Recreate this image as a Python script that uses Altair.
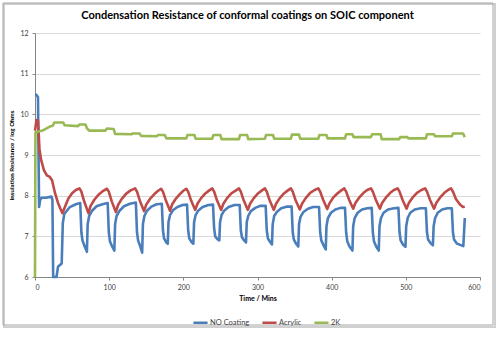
import altair as alt
import pandas as pd

# ---- data (time in minutes, value in log Ohms) ----
no_coating = [
    (0, 10.48), (2, 10.48), (4, 10.42), (5.5, 7.72), (7, 7.9), (9, 7.95), (15, 7.95), (22, 7.98),
    (23.5, 7.9), (24.5, 6.0), (29, 6.0), (31, 6.25), (36, 6.33), (37.5, 7.33), (39.5, 7.55),
    (47, 7.72), (55, 7.79),
    (61, 7.82), (62.5, 7.1), (64, 6.9), (67, 6.75), (70, 6.62), (71, 7.3), (73, 7.5), (77, 7.63), (83, 7.74), (91, 7.79),
    (98, 7.82), (99.5, 7.1), (101, 6.88), (104, 6.75), (107, 6.65), (108, 7.3), (110, 7.5), (114, 7.63), (120, 7.74), (128, 7.8),
    (136, 7.83), (137.5, 7.1), (139, 6.9), (142, 6.75), (144.5, 6.6), (145.5, 7.3), (147.5, 7.5), (151, 7.63), (157, 7.73), (164, 7.79),
    (171, 7.8), (172.5, 7.15), (174, 6.95), (177, 6.85), (179, 6.82), (180, 7.35), (182, 7.52), (186, 7.64), (192, 7.72), (199, 7.77),
    (205, 7.78), (206.5, 7.15), (208, 6.95), (211, 6.86), (213.5, 6.82), (214.5, 7.35), (216.5, 7.52), (220, 7.63), (226, 7.72), (234, 7.77),
    (240, 7.78), (241.5, 7.2), (243, 7.0), (246, 6.93), (248.5, 6.9), (249.5, 7.35), (251.5, 7.52), (255, 7.63), (261, 7.72), (269, 7.77),
    (276, 7.77), (277.5, 7.15), (279, 6.98), (282, 6.9), (284.5, 6.85), (285.5, 7.35), (287.5, 7.5), (291, 7.62), (297, 7.7), (304, 7.75),
    (311, 7.75), (312.5, 7.15), (314, 6.95), (317, 6.86), (319.5, 6.8), (320.5, 7.3), (322.5, 7.5), (326, 7.6), (332, 7.69), (339, 7.73),
    (346, 7.73), (347.5, 7.1), (349, 6.92), (352, 6.82), (355, 6.75), (356, 7.3), (358, 7.48), (362, 7.6), (368, 7.68), (375, 7.72),
    (383, 7.72), (384.5, 7.1), (386, 6.9), (389, 6.78), (392, 6.68), (393, 7.25), (395, 7.45), (399, 7.58), (405, 7.66), (412, 7.7),
    (418, 7.7), (419.5, 7.1), (421, 6.88), (424, 6.75), (428, 6.65), (429, 7.25), (431, 7.45), (435, 7.58), (441, 7.66), (448, 7.69),
    (454, 7.7), (455.5, 7.1), (457, 6.88), (460, 6.75), (463.5, 6.65), (464.5, 7.25), (466.5, 7.45), (470, 7.58), (476, 7.66), (484, 7.69),
    (490, 7.7), (491.5, 7.1), (493, 6.9), (496, 6.8), (499.5, 6.74), (500.5, 7.25), (502.5, 7.45), (506, 7.58), (512, 7.66), (520, 7.69),
    (527, 7.69), (528.5, 7.1), (530, 6.92), (533, 6.84), (536.5, 6.78), (537.5, 7.25), (539.5, 7.45), (543, 7.58), (549, 7.66), (556, 7.69),
    (562, 7.69), (563.5, 7.1), (565, 6.92), (569, 6.82), (577.5, 6.76), (579.5, 7.45),
]

acrylic = [
    (0, 9.6), (2, 9.86), (4, 9.85), (6, 9.15), (8, 8.9), (12, 8.63), (16, 8.5), (20, 8.46), (23, 8.38),
    (27, 8.06), (31, 7.82), (35, 7.65), (37, 7.57), (41, 7.75), (45, 7.93), (50, 8.06), (55, 8.14), (60, 8.18),
    (62.5, 8.1), (66.5, 7.85), (72, 7.57), (75, 7.75), (80, 7.9), (86, 8.03), (92, 8.12), (97, 8.17),
    (99.5, 8.1), (103.5, 7.86), (109, 7.6), (112, 7.77), (117, 7.92), (123, 8.05), (129, 8.13), (135, 8.18),
    (137.5, 8.1), (141.5, 7.87), (147, 7.62), (150, 7.78), (155, 7.92), (161, 8.04), (166, 8.12), (170, 8.17),
    (172.5, 8.1), (176.5, 7.88), (182, 7.63), (185, 7.79), (190, 7.93), (196, 8.05), (200, 8.12), (204, 8.17),
    (206.5, 8.1), (210.5, 7.88), (216, 7.65), (219, 7.8), (224, 7.94), (230, 8.06), (235, 8.13), (239, 8.18),
    (241.5, 8.1), (245.5, 7.88), (251, 7.65), (254, 7.8), (259, 7.94), (265, 8.06), (271, 8.13), (275, 8.18),
    (277.5, 8.1), (281.5, 7.88), (287, 7.65), (290, 7.8), (295, 7.94), (301, 8.06), (306, 8.13), (310, 8.18),
    (312.5, 8.1), (316.5, 7.88), (322, 7.65), (325, 7.8), (330, 7.94), (336, 8.06), (341, 8.13), (345, 8.18),
    (347.5, 8.1), (351.5, 7.88), (357, 7.66), (360, 7.8), (365, 7.94), (371, 8.07), (377, 8.14), (382, 8.18),
    (384.5, 8.1), (388.5, 7.9), (394, 7.67), (397, 7.81), (402, 7.95), (408, 8.06), (413, 8.13), (417, 8.18),
    (419.5, 8.1), (423.5, 7.9), (429, 7.68), (432, 7.82), (437, 7.95), (443, 8.07), (448, 8.14), (453, 8.18),
    (455.5, 8.1), (459.5, 7.9), (465, 7.68), (468, 7.82), (473, 7.95), (479, 8.07), (484, 8.14), (489, 8.18),
    (491.5, 8.1), (495.5, 7.9), (501, 7.68), (504, 7.82), (509, 7.95), (515, 8.07), (521, 8.14), (526, 8.18),
    (528.5, 8.1), (532.5, 7.9), (538, 7.68), (541, 7.82), (546, 7.95), (552, 8.07), (557, 8.14), (561, 8.18),
    (563.5, 8.1), (567.5, 7.92), (573, 7.78), (577, 7.72), (579.5, 7.73),
]

two_k = [
    (0, 6.0), (0.6, 9.55), (5, 9.58), (10, 9.6), (15, 9.65), (20, 9.7), (24, 9.72), (26, 9.8), (38, 9.8),
    (40, 9.73), (58, 9.71), (60, 9.75), (68, 9.75), (70, 9.66), (73, 9.6), (95, 9.6), (97, 9.65), (106, 9.64),
    (108, 9.52), (130, 9.51), (132, 9.53), (141, 9.53), (143, 9.47), (164, 9.46), (166, 9.49), (175, 9.49),
    (177, 9.41), (204, 9.41), (205.5, 9.49), (215, 9.49), (216.5, 9.4), (239, 9.4), (240.5, 9.49), (250, 9.49),
    (251.5, 9.39), (275, 9.39), (276.5, 9.49), (286, 9.49), (287.5, 9.39), (310, 9.4), (311.5, 9.49), (321, 9.49),
    (322.5, 9.4), (345, 9.4), (346.5, 9.5), (356, 9.5), (357.5, 9.4), (382, 9.4), (383.5, 9.49), (393, 9.49),
    (394.5, 9.41), (418, 9.41), (419.5, 9.51), (428, 9.51), (429.5, 9.44), (453, 9.44), (454.5, 9.51), (466, 9.51),
    (467.5, 9.39), (491, 9.39), (492.5, 9.44), (502, 9.44), (503.5, 9.41), (527, 9.41), (528.5, 9.51), (538, 9.51),
    (539.5, 9.46), (562, 9.46), (563.5, 9.53), (577, 9.53), (579.5, 9.44),
]

chart_title = "Condensation Resistance of conformal coatings on SOIC component"
series_names = ["NO Coating", "Acrylic", "2K"]
series_colors = ["#4A7EBB", "#BE4B48", "#98B954"]
x_ticks = [0, 100, 200, 300, 400, 500, 600]
y_ticks = [6, 7, 8, 9, 10, 11, 12]

rows = []
for name, pts in zip(series_names, [no_coating, acrylic, two_k]):
    for i, (t, v) in enumerate(pts):
        rows.append({"series": name, "time": t, "value": v, "idx": i})
df = pd.DataFrame(rows)

FONT = "Lato"
AXIS_GREY = "#868686"
LABEL_GREY = "#404040"

x_enc = alt.X(
    "time:Q",
    scale=alt.Scale(domain=[0, 600], nice=False),
    axis=alt.Axis(values=x_ticks, grid=False, title="Time / Mins", format="d",
                  tickSize=3, labelPadding=3, titlePadding=4),
)
y_enc = alt.Y(
    "value:Q",
    scale=alt.Scale(domain=[6, 12], nice=False, zero=False),
    axis=alt.Axis(values=y_ticks, grid=True, title="Insulation Resistance / log Ohms",
                  tickSize=3, labelPadding=4, titlePadding=5, titleFontSize=6.2),
)
color_enc = alt.Color(
    "series:N",
    scale=alt.Scale(domain=series_names, range=series_colors),
    legend=alt.Legend(
        title=None, orient="none", legendX=157, legendY=281, direction="horizontal",
        columns=3, symbolType="stroke", symbolSize=200, symbolStrokeWidth=2.5,
        labelFontSize=7.5, labelFont=FONT, labelColor=LABEL_GREY, columnPadding=7,
        labelOffset=1, padding=0,
    ),
)

base = alt.Chart(df)
lines = [
    base.transform_filter(alt.datum.series == n)
    .mark_line(strokeWidth=2.6, strokeJoin="round")
    .encode(x=x_enc, y=y_enc, color=color_enc, order="idx:Q")
    for n in series_names
]

deco_df = pd.DataFrame({"k": [0]})
shadow = alt.Chart(deco_df).mark_rect(fill="transparent", stroke="#D0D0D0", strokeWidth=2).encode(
    x=alt.value(-31), x2=alt.value(460), y=alt.value(-29), y2=alt.value(294)
)
frame = alt.Chart(deco_df).mark_rect(fill="transparent", stroke="#A6A6A6", strokeWidth=1).encode(
    x=alt.value(-32), x2=alt.value(458), y=alt.value(-30), y2=alt.value(292)
)
title_mark = alt.Chart(deco_df).mark_text(
    font=FONT, fontSize=11, fontWeight="bold", color="#000000", align="center", baseline="middle"
).encode(x=alt.value(212.5), y=alt.value(-17), text=alt.value(chart_title))

chart = alt.layer(shadow, frame, title_mark, *lines).properties(
    width=445,
    height=244,
    autosize=alt.AutoSizeParams(type="none"),
    padding={"left": 35, "top": 33, "right": 20, "bottom": 73},
).configure_view(stroke="transparent").configure_axis(
    labelFont=FONT, labelFontSize=7, labelColor=LABEL_GREY,
    titleFont=FONT, titleFontSize=7, titleFontWeight="bold", titleColor="#000000",
    domainColor=AXIS_GREY, tickColor=AXIS_GREY, gridColor="#D9D9D9", gridWidth=1,
)

chart.save("out.html", embed_options={"renderer": "svg", "actions": False})
